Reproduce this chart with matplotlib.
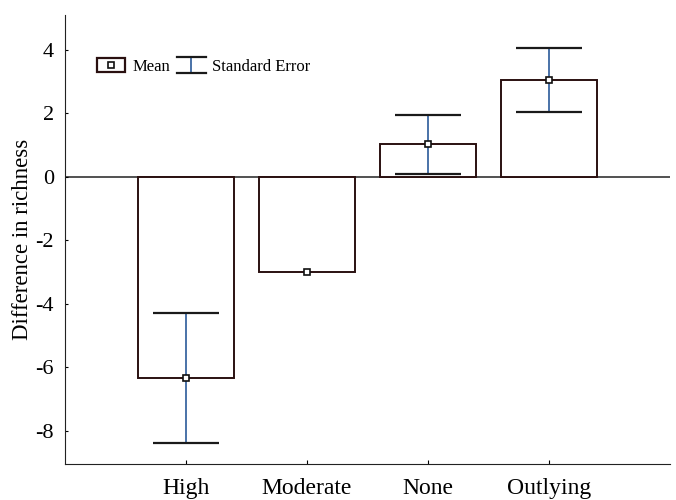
import matplotlib
matplotlib.use("Agg")
import matplotlib.pyplot as plt
from matplotlib.legend_handler import HandlerBase
from matplotlib.patches import Rectangle
from matplotlib.lines import Line2D

categories = ["High", "Moderate", "None", "Outlying"]
means = [-6.35, -3.0, 1.03, 3.05]
std_err = [2.05, 0.0, 0.93, 1.0]
yticks = [-8, -6, -4, -2, 0, 2, 4]

plt.rcParams['font.family'] = ['Liberation Serif', 'DejaVu Serif']

BAR_EDGE = '#2a1010'
ERR_COL = '#4a72a8'
CAP_COL = '#1a1a1a'

fig = plt.figure(figsize=(6.76, 5.0), dpi=100)
ax = fig.add_axes([65/676, 36/500, 605/676, 449/500])

x = list(range(len(categories)))
ax.bar(x, means, width=0.8, facecolor='white', edgecolor=BAR_EDGE, linewidth=1.4, zorder=2)
ax.axhline(0, color='#333333', linewidth=1.2, zorder=1)
idx = [i for i, s in enumerate(std_err) if s > 0]
eb = ax.errorbar([x[i] for i in idx], [means[i] for i in idx], yerr=[std_err[i] for i in idx],
                 fmt='none', ecolor=ERR_COL, elinewidth=1.4, capsize=24, capthick=1.6, zorder=3)
for cap in eb[1]:
    cap.set_markeredgecolor(CAP_COL)
    cap.set_color(CAP_COL)
ax.plot(x, means, linestyle='none', marker='s', markersize=4.5, markerfacecolor='white',
        markeredgecolor='#111111', markeredgewidth=1.2, zorder=4)

ax.set_xlim(-1, 4)
ax.set_ylim(-9.05, 5.1)
ax.set_xticks(x)
ax.set_xticklabels(categories, fontsize=17)
ax.set_yticks(yticks)
ax.set_yticklabels([str(v) for v in yticks], fontsize=16)
ax.set_ylabel("Difference in richness", fontsize=16.5, labelpad=2)
ax.spines['top'].set_visible(False)
ax.spines['right'].set_visible(False)
ax.spines['left'].set_color('#222222')
ax.spines['bottom'].set_color('#222222')
ax.tick_params(axis='x', direction='in', length=3, pad=10)
ax.tick_params(axis='y', direction='in', length=2, pad=8)


class MeanHandler(HandlerBase):
    def create_artists(self, legend, orig_handle, xdescent, ydescent, width, height, fontsize, trans):
        r = Rectangle((-xdescent, -ydescent), width, height, facecolor='white',
                      edgecolor=BAR_EDGE, linewidth=1.6, transform=trans)
        m = Line2D([-xdescent + width / 2], [-ydescent + height / 2], linestyle='none', marker='s',
                   markersize=4.5, markerfacecolor='white', markeredgecolor='#111111',
                   markeredgewidth=1.2, transform=trans)
        return [r, m]


class SEHandler(HandlerBase):
    def create_artists(self, legend, orig_handle, xdescent, ydescent, width, height, fontsize, trans):
        x0, x1 = -xdescent, -xdescent + width
        y0, y1 = -ydescent - 1, -ydescent + height + 1
        xc = (x0 + x1) / 2
        v = Line2D([xc, xc], [y0, y1], color=ERR_COL, linewidth=1.4, transform=trans)
        c1 = Line2D([x0, x1], [y0, y0], color=CAP_COL, linewidth=1.6, transform=trans)
        c2 = Line2D([x0, x1], [y1, y1], color=CAP_COL, linewidth=1.6, transform=trans)
        return [v, c1, c2]


mean_h = Rectangle((0, 0), 1, 1)
se_h = Line2D([], [])
leg = ax.legend([mean_h, se_h], ["Mean", "Standard Error"],
                handler_map={Rectangle: MeanHandler(), Line2D: SEHandler()},
                loc='center left', bbox_to_anchor=(0.053, 0.885), ncol=2, frameon=False,
                borderpad=0, borderaxespad=0,
                fontsize=12, handlelength=1.7, handleheight=0.85,
                columnspacing=0.45, handletextpad=0.4)

fig.savefig("out.png", dpi=100, facecolor='white')
